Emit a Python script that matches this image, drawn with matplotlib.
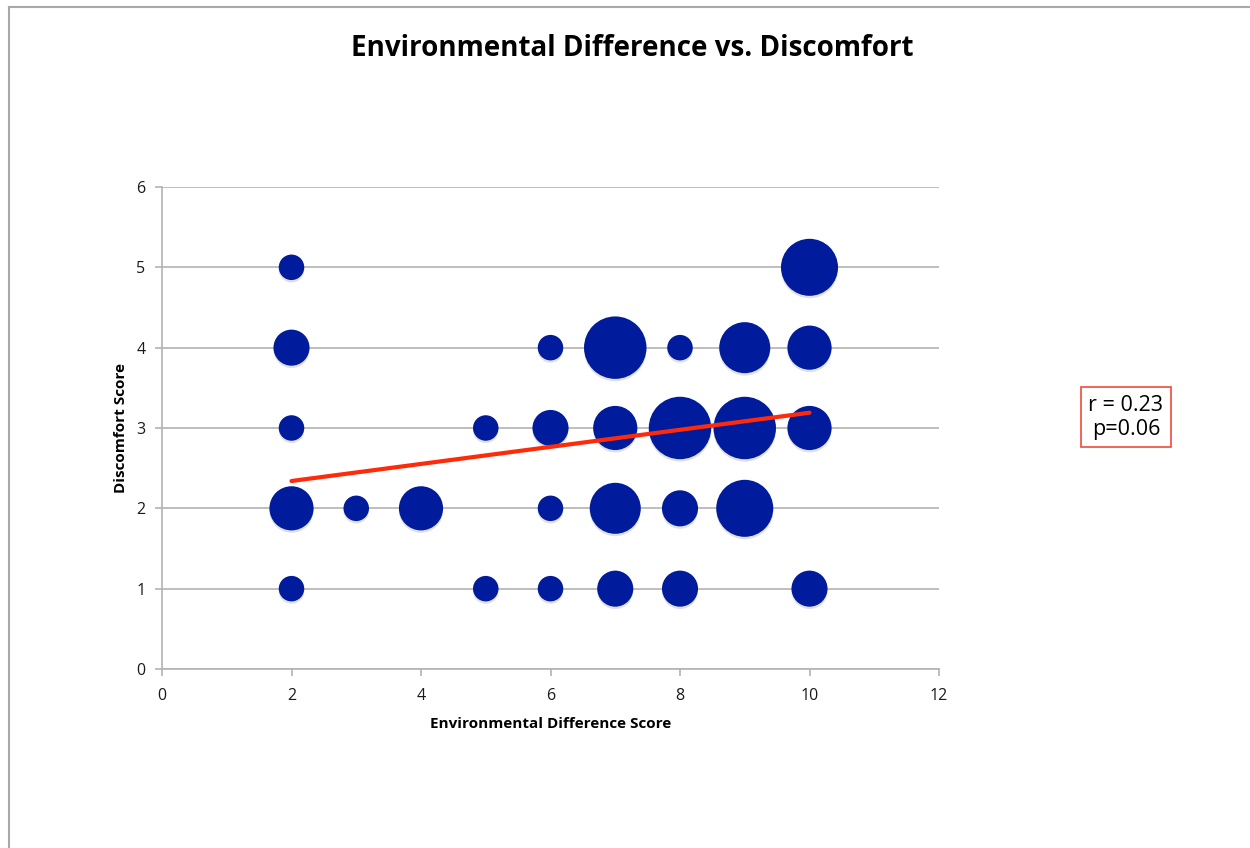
#!/usr/bin/env python3
"""Bubble chart of discomfort score against environmental difference score,
bubble area = number of respondents at each (difference, discomfort) pair,
with a linear trend line and the correlation summary box."""
import matplotlib
matplotlib.use("Agg")
import matplotlib.pyplot as plt
import numpy as np
from matplotlib.lines import Line2D

plt.rcParams["font.family"] = ["Open Sans", "DejaVu Sans"]

# one entry per bubble: difference score, discomfort score, respondent count
diff_score = [2, 10,
              2, 6, 7, 8, 9, 10,
              2, 5, 6, 7, 8, 9, 10,
              2, 3, 4, 6, 7, 8, 9,
              2, 5, 6, 7, 8, 10]
discomfort = [5, 5,
              4, 4, 4, 4, 4, 4,
              3, 3, 3, 3, 3, 3, 3,
              2, 2, 2, 2, 2, 2, 2,
              1, 1, 1, 1, 1, 1]
counts = [1, 5,
          2, 1, 6, 1, 4, 3,
          1, 1, 2, 3, 6, 6, 3,
          3, 1, 3, 1, 4, 2, 5,
          1, 1, 1, 2, 2, 2]

# linear trend over the plotted range
trend_x = [2, 10]
trend_y = [2.34, 3.19]

stats_text = "r = 0.23\np=0.06"

BUBBLE = "#001c9c"
TREND = "#ff2a0a"
GRID = "#b3b3b3"

fig = plt.figure(figsize=(12.5, 8.48), dpi=100)
ax = fig.add_axes([0.1296, 0.2111, 0.6216, 0.5684])

# area proportional to count; a 1-count bubble is about 25.5 px across
sizes = np.array(counts) * (25.5 * 72 / 100) ** 2
ax.scatter(diff_score, np.array(discomfort) - 0.03, s=sizes, marker="o",
           color="#000000", alpha=0.12, linewidths=0, zorder=2)
ax.scatter(diff_score, discomfort, s=sizes, marker="o",
           color=BUBBLE, linewidths=0, zorder=3)
ax.plot(trend_x, trend_y, color=TREND, linewidth=3, solid_capstyle="round",
        zorder=4)

ax.set_xlim(0, 12)
ax.set_ylim(0, 6)
ax.set_xticks(range(0, 13, 2))
ax.set_yticks(range(0, 7))
ax.yaxis.grid(True, color=GRID, linewidth=1.2)
ax.set_axisbelow(True)
for side in ("top", "right"):
    ax.spines[side].set_visible(False)
for side in ("left", "bottom"):
    ax.spines[side].set_color(GRID)
    ax.spines[side].set_linewidth(1.2)
ax.tick_params(colors=GRID, labelcolor="#1a1a1a", labelsize=11.5,
               length=5, width=1.2)
ax.tick_params(axis="x", pad=9)
ax.tick_params(axis="y", pad=7)

ax.set_xlabel("Environmental Difference Score", fontsize=11,
              fontweight="bold", labelpad=9)
ax.set_ylabel("Discomfort Score", fontsize=11, fontweight="bold",
              labelpad=6)

fig.text(0.506, 0.943, "Environmental Difference vs. Discomfort",
         ha="center", va="center", fontsize=20, fontweight="bold")

fig.text(0.9008, 0.508, stats_text, ha="center", va="center", fontsize=15.5,
         linespacing=1.2,
         bbox=dict(boxstyle="square,pad=0.35", facecolor="white",
                   edgecolor="#f04a3a", linewidth=1.2))

# outer chart frame (only the top and left edges fall inside the image)
fig.add_artist(Line2D([9 / 1250, 9 / 1250], [0, 1 - 7 / 848],
                      color="#a8a8a8", linewidth=1.5))
fig.add_artist(Line2D([9 / 1250, 1], [1 - 7 / 848, 1 - 7 / 848],
                      color="#a8a8a8", linewidth=1.5))

fig.savefig("out.png", dpi=100, facecolor="white")
